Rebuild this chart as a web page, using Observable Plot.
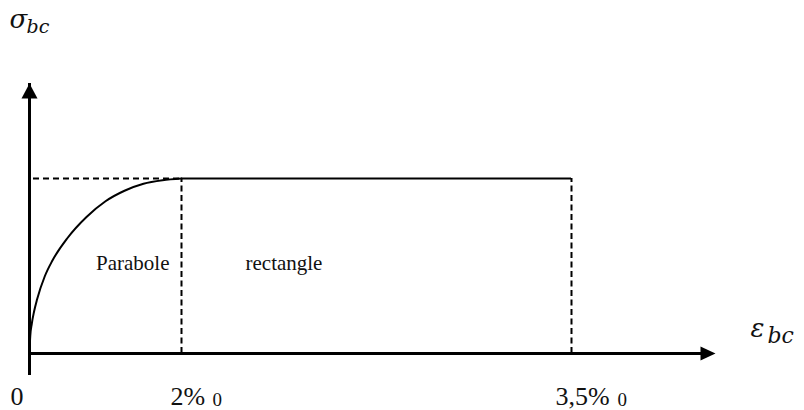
<!DOCTYPE html>
<html><head><meta charset="utf-8">
<script src="https://cdn.jsdelivr.net/npm/d3@7"></script>
<script src="https://cdn.jsdelivr.net/npm/@observablehq/plot@0.6"></script>
<style>body{margin:0;background:#fff;} svg{display:block;}</style>
</head><body><div id="chart"></div>
<script>
// strain (‰) axis breakpoints: origin, end of parabola, end of rectangle, axis arrow tip
const strainBreaks = [0, 2, 3.5, 4.05];
// parabola branch (strain ‰, stress relative to plateau)
const curveStrain = [0, 0.01, 0.03, 0.06, 0.1, 0.2, 0.3, 0.5, 0.75, 1, 1.25, 1.5, 1.75, 2];
const curveStress = [0, 0.10, 0.17, 0.24, 0.31, 0.44, 0.53, 0.66, 0.78, 0.87, 0.93, 0.97, 0.99, 1];
const plateauStress = 1;
const plateauStart = 2, plateauEnd = 3.5;
const yAxisExtent = [-0.057, 1.543];
const tickValues = [0, 2, 3.5];
const tickLabels = ["0", "2%", "3,5%"];
const tickSubs = ["", "0", "0"];
const regionLabels = ["Parabole", "rectangle"];
const axisNames = ["σ", "ε"];
const axisSub = "bc";

const curve = curveStrain.map((e, i) => ({e, s: curveStress[i]}));

const upHead = {draw(c){c.moveTo(0,0);c.lineTo(-8,15);c.lineTo(8,15);c.closePath();}};
const rightHead = {draw(c){c.moveTo(0,0);c.lineTo(-15,-7);c.lineTo(-15,7);c.closePath();}};

const serif = "'Liberation Serif', 'Times New Roman', serif";
const math = "'DejaVu Serif', 'Liberation Serif', serif";

const chart = Plot.plot({
  width: 804, height: 410,
  margin: 0,
  x: {type: "linear", domain: strainBreaks, range: [29, 181, 571, 715], axis: null},
  y: {type: "linear", domain: [0, 1], range: [353, 178], axis: null},
  style: {fontFamily: serif, background: "#fff"},
  marks: [
    // axes
    Plot.ruleY([0], {x1: strainBreaks[0], x2: strainBreaks[3], stroke: "#000", strokeWidth: 3, insetRight: 12}),
    Plot.ruleX([0], {y1: yAxisExtent[0], y2: yAxisExtent[1], stroke: "#000", strokeWidth: 3, insetTop: 12}),
    Plot.dot([{x: strainBreaks[3], y: 0}], {x: "x", y: "y", symbol: rightHead, fill: "#000", stroke: null, r: 8}),
    Plot.dot([{x: 0, y: yAxisExtent[1]}], {x: "x", y: "y", symbol: upHead, fill: "#000", stroke: null, r: 8}),
    // dashed guides
    Plot.ruleY([plateauStress], {x1: 0, x2: plateauStart, stroke: "#000", strokeWidth: 2, strokeDasharray: "6,4", insetLeft: 4}),
    Plot.ruleX([plateauStart, plateauEnd], {y1: 0, y2: plateauStress, stroke: "#000", strokeWidth: 2, strokeDasharray: "6,3.5"}),
    // parabola + rectangle
    Plot.line(curve, {x: "e", y: "s", curve: "monotone-x", stroke: "#000", strokeWidth: 2}),
    Plot.ruleY([plateauStress], {x1: plateauStart, x2: plateauEnd, stroke: "#000", strokeWidth: 2}),
    // region labels
    Plot.text([regionLabels[0]], {x: plateauStart, y: 0.475, text: d => d, textAnchor: "end", lineAnchor: "bottom", dx: -12, fontSize: 21, fill: "#111"}),
    Plot.text([regionLabels[1]], {x: plateauStart, y: 0.475, text: d => d, textAnchor: "start", lineAnchor: "bottom", dx: 64, fontSize: 21, fill: "#111"}),
    // tick labels
    Plot.text([0], {x: tickValues[0], frameAnchor: "bottom", text: () => tickLabels[0], textAnchor: "start", lineAnchor: "bottom", dx: -19, dy: -6, fontSize: 26, fill: "#111"}),
    Plot.text([0], {x: tickValues[1], frameAnchor: "bottom", text: () => tickLabels[1], textAnchor: "start", lineAnchor: "bottom", dx: -11, dy: -6, fontSize: 26, fill: "#111"}),
    Plot.text([0], {x: tickValues[1], frameAnchor: "bottom", text: () => tickSubs[1], textAnchor: "start", lineAnchor: "bottom", dx: 31, dy: -5, fontSize: 19, fill: "#111"}),
    Plot.text([0], {x: tickValues[2], frameAnchor: "bottom", text: () => tickLabels[2], textAnchor: "start", lineAnchor: "bottom", dx: -16, dy: -6, fontSize: 26, fill: "#111"}),
    Plot.text([0], {x: tickValues[2], frameAnchor: "bottom", text: () => tickSubs[2], textAnchor: "start", lineAnchor: "bottom", dx: 46, dy: -5, fontSize: 19, fill: "#111"}),
    // axis names
    Plot.text([0], {frameAnchor: "top-left", text: () => axisNames[0], textAnchor: "start", lineAnchor: "bottom", dx: 9, dy: 27, fontSize: 26, fontStyle: "italic", fontFamily: math, fill: "#111"}),
    Plot.text([0], {frameAnchor: "top-left", text: () => axisSub, textAnchor: "start", lineAnchor: "bottom", dx: 26, dy: 32, fontSize: 19, fontStyle: "italic", fontFamily: math, fill: "#111"}),
    Plot.text([0], {frameAnchor: "top-left", text: () => axisNames[1], textAnchor: "start", lineAnchor: "bottom", dx: 750, dy: 336, fontSize: 26, fontStyle: "italic", fontFamily: math, fill: "#111"}),
    Plot.text([0], {frameAnchor: "top-left", text: () => axisSub, textAnchor: "start", lineAnchor: "bottom", dx: 767, dy: 342, fontSize: 22, fontStyle: "italic", fontFamily: math, fill: "#111"})
  ]
});
document.getElementById("chart").append(chart);
</script>
</body></html>
